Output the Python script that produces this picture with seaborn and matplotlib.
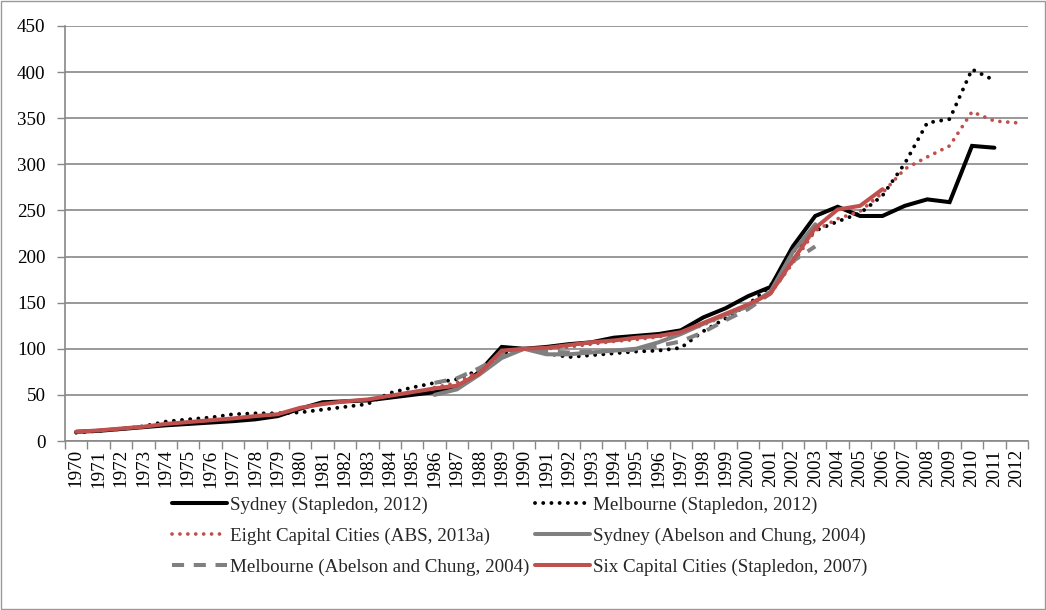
import numpy as np
import pandas as pd
import matplotlib
matplotlib.use("Agg")
import matplotlib.pyplot as plt
from matplotlib.patches import Rectangle
import seaborn as sns

# ---- data: house price indices (1990 = 100) ----
years_stapledon_2012 = list(range(1970, 2012))
sydney_stapledon_2012 = [10, 11, 13, 15, 17, 18.5, 20, 21.5, 23.5, 27,
                         35, 42, 43, 44, 47, 50, 53, 57, 75, 102,
                         100, 102, 105, 107, 112, 114, 116, 120, 134, 144,
                         157, 167, 211, 244, 254, 244, 244, 255, 262, 259,
                         320, 318]
melbourne_stapledon_2012 = [9, 11, 13, 16, 21, 23.5, 25.5, 29, 30, 30,
                            31, 34, 37, 40, 52, 58, 63, 67, 77, 95,
                            100, 95, 91, 93, 95, 97, 98, 101, 119, 133,
                            148, 168, 205, 228, 238, 247, 266, 301, 345, 349,
                            403, 391]

years_abs_2013 = list(range(1986, 2013))
eight_capitals_abs_2013 = [58, 63, 76, 96, 100, 100, 102, 105, 108, 110,
                           113, 117, 126, 136, 146, 160, 193, 228, 241, 249,
                           269, 295, 308, 320, 357, 347, 345]

years_abelson_2004 = list(range(1986, 2004))
sydney_abelson_2004 = [50, 56, 72, 90, 100, 94, 94, 96, 98, 100,
                       107, 116, 127, 137, 146, 162, 205, 235]
melbourne_abelson_2004 = [63, 68, 79, 93, 100, 97, 96, 97, 98, 99,
                          103, 108, 118, 131, 143, 160, 195, 211]

years_stapledon_2007 = list(range(1970, 2007))
six_capitals_stapledon_2007 = [10, 11.5, 13.5, 15.5, 18.5, 20.5, 22.5, 24.5, 27, 29,
                               36, 40, 43, 45, 49, 53, 57, 60, 73, 98,
                               100, 101, 104, 107, 109, 112, 114, 118, 128, 138,
                               148, 160, 196, 231, 251, 255, 273]

labels = ["Sydney (Stapledon, 2012)",
          "Melbourne (Stapledon, 2012)",
          "Eight Capital Cities (ABS, 2013a)",
          "Sydney (Abelson and Chung, 2004)",
          "Melbourne (Abelson and Chung, 2004)",
          "Six Capital Cities (Stapledon, 2007)"]

x_years = list(range(1970, 2013))
y_ticks = list(range(0, 451, 50))

# ---- style ----
sns.set_theme(style="white")
plt.rcParams["font.family"] = ["Liberation Serif", "DejaVu Serif"]
FS = 13.7
plt.rcParams["font.size"] = FS

RED = "#C0504D"
GREY = "#808080"
GRID = "#888888"

fig = plt.figure(figsize=(10.46, 6.10), dpi=100)
ax = fig.add_axes([65 / 1046, 1 - 441 / 610, (1028 - 65) / 1046, (441 - 26) / 610])

series = [
    (years_stapledon_2012, sydney_stapledon_2012, dict(color="black", lw=2.9, linestyle="-")),
    (years_stapledon_2012, melbourne_stapledon_2012,
     dict(color="black", lw=2.8, linestyle=(0, (0.01, 2.1)), dash_capstyle="round")),
    (years_abs_2013, eight_capitals_abs_2013,
     dict(color=RED, lw=2.7, linestyle=(0, (0.01, 2.1)), dash_capstyle="round")),
    (years_abelson_2004, sydney_abelson_2004, dict(color=GREY, lw=2.9, linestyle="-")),
    (years_abelson_2004, melbourne_abelson_2004,
     dict(color=GREY, lw=2.9, linestyle=(0, (3.0, 2.4)), dash_capstyle="butt")),
    (years_stapledon_2007, six_capitals_stapledon_2007, dict(color=RED, lw=2.9, linestyle="-")),
]

for (xs, ys, kw), lab in zip(series, labels):
    sns.lineplot(x=xs, y=ys, ax=ax, label=lab, solid_joinstyle="miter", **kw)

# ---- axes ----
ax.set_xlim(1969.5, 2012.5)
ax.set_ylim(0, 450)
ax.set_yticks(y_ticks)
ax.set_xticks(x_years)
ax.set_xticklabels([str(y) for y in x_years], rotation=90)
ax.set_xticks(np.arange(1969.5, 2013.0, 1.0), minor=True)
ax.tick_params(axis="x", which="major", length=0, pad=6, labelsize=FS, colors="black")
ax.tick_params(axis="x", which="minor", length=6, width=1, color=GRID, direction="out", bottom=True)
ax.tick_params(axis="y", length=6, width=1, color=GRID, direction="out", left=True, pad=8,
               labelsize=FS, colors="black")
ax.yaxis.grid(True, color=GRID, lw=1.2)
ax.xaxis.grid(False)
ax.set_axisbelow(True)
for side in ("top", "right"):
    ax.spines[side].set_visible(False)
for side in ("left", "bottom"):
    ax.spines[side].set_color(GRID)
    ax.spines[side].set_linewidth(1.2)
ax.set_xlabel("")
ax.set_ylabel("")

# ---- legend below the plot ----
handles, labs = ax.get_legend_handles_labels()
ax.get_legend().remove()
order = [0, 2, 4, 1, 3, 5]
fig.legend([handles[i] for i in order], [labs[i] for i in order],
           loc="center", bbox_to_anchor=(0.497, 0.121), ncol=2, frameon=False,
           handlelength=2.9, handletextpad=0.15, columnspacing=0.3,
           labelspacing=0.72, fontsize=FS)

# outer chart frame
fig.patches.append(Rectangle((0.0008, 0.0012), 0.9985, 0.9975, transform=fig.transFigure,
                             fill=False, edgecolor="#999999", lw=1.0))

fig.savefig("out.png", dpi=100)
